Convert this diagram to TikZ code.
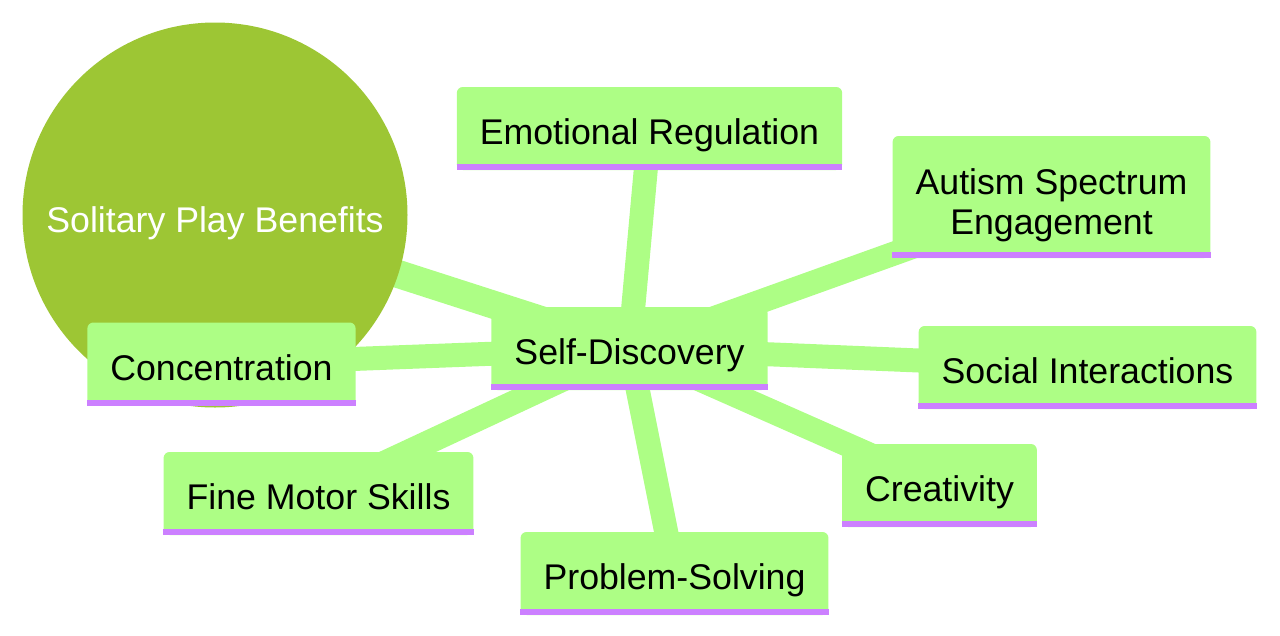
\documentclass[tikz,border=0pt]{standalone}
\usepackage{fontspec}
\setmainfont{Liberation Sans}
\usepackage{tikz}
\usetikzlibrary{positioning,backgrounds}
\definecolor{rootgreen}{RGB}{157,198,52}
\definecolor{leafgreen}{RGB}{173,254,133}
\definecolor{linepurple}{RGB}{204,128,255}

\begin{document}
\begin{tikzpicture}[
    x=1pt, y=-1pt,
    rootnode/.style={circle, fill=rootgreen, minimum size=385pt, inner sep=0pt, text=white, font=\fontsize{35.7}{40}\selectfont},
    leaf/.style={rectangle, rounded corners=6pt, fill=leafgreen, inner xsep=23pt, inner ysep=22pt, minimum height=83pt, text height=32pt, text depth=0pt, align=center, font=\fontsize{35.7}{40}\selectfont},
    edge/.style={leafgreen, line width=24pt},
    rootedge/.style={leafgreen, line width=28pt}
]
\useasboundingbox (0,0) rectangle (1280,635);

% Root
\node[rootnode] (root) at (215,215) {\raisebox{-17pt}[0pt][0pt]{Solitary Play Benefits}};

% Branch
\node[leaf] (self) at (629.5,348.5) {Self-Discovery};

% Leaves
\node[leaf] (emo) at (649.5,128.5) {Emotional Regulation};
\node[leaf, minimum height=122pt, text height=74pt] (aut) at (1051.5,197) {Autism Spectrum\\Engagement};
\node[leaf] (soc) at (1087.5,367.5) {Social Interactions};
\node[leaf] (con) at (221.5,364) {Concentration};
\node[leaf] (fine) at (318.5,493.5) {Fine Motor Skills};
\node[leaf] (cre) at (939.5,485.5) {Creativity};
\node[leaf] (prob) at (674.5,573.5) {Problem-Solving};

% Purple underlines
\foreach \n in {self,emo,aut,soc,con,fine,cre,prob}
    \fill[linepurple] (\n.south west) rectangle ([yshift=6pt]\n.south east);

% Connections
\begin{scope}[on background layer]
\draw[rootedge] (root.center) -- (self.center);
\foreach \n in {emo,aut,soc,con,fine,cre,prob}
    \draw[edge] (self.center) -- (\n.center);
\end{scope}

\end{tikzpicture}
\end{document}
